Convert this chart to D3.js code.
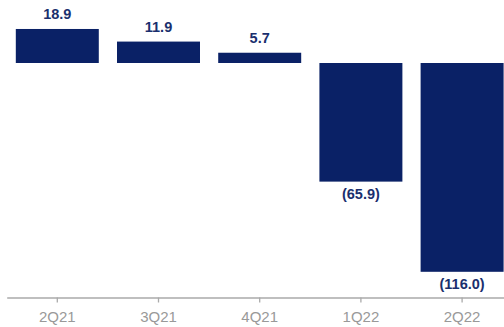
<!DOCTYPE html>
<html>
<head>
<meta charset="utf-8">
<script src="https://cdn.jsdelivr.net/npm/d3@7"></script>
<style>
  html, body { margin: 0; padding: 0; background: #fff; }
  svg { display: block; }
</style>
</head>
<body>
<div id="chart"></div>
<script>
// data
const quarters = ["2Q21", "3Q21", "4Q21", "1Q22", "2Q22"];
const values = [18.9, 11.9, 5.7, -65.9, -116.0];

const width = 504, height = 327;
const barColor = "#0a2166";

const svg = d3.select("#chart").append("svg")
  .attr("width", width)
  .attr("height", height);

// scales
const x = d3.scaleBand()
  .domain(quarters)
  .range([6.7, 512.7])
  .paddingInner(0.18)
  .paddingOuter(0.09);

const y = d3.scaleLinear()
  .domain([-120, 20])
  .range([279, 27]);

const data = quarters.map((q, i) => ({ q, v: values[i] }));

// bars
svg.selectAll("rect.bar")
  .data(data)
  .enter()
  .append("rect")
  .attr("class", "bar")
  .attr("x", d => x(d.q))
  .attr("width", x.bandwidth())
  .attr("y", d => y(Math.max(0, d.v)))
  .attr("height", d => Math.abs(y(d.v) - y(0)))
  .attr("fill", barColor);

// value labels
const fmt = v => v < 0 ? `(${Math.abs(v).toFixed(1)})` : v.toFixed(1);
svg.selectAll("text.val")
  .data(data)
  .enter()
  .append("text")
  .attr("class", "val")
  .attr("x", d => x(d.q) + x.bandwidth() / 2)
  .attr("y", d => d.v >= 0 ? y(d.v) - 9.5 : y(d.v) + 17.5)
  .attr("text-anchor", "middle")
  .style("font-family", "Liberation Sans, Arial, sans-serif")
  .style("font-weight", "bold")
  .style("font-size", "14.5px")
  .attr("fill", "#1a2f6e")
  .text(d => fmt(d.v));

// axis
const xAxis = d3.axisBottom(x).tickSize(5).tickSizeOuter(0).tickPadding(9);
const gx = svg.append("g")
  .attr("transform", "translate(0, 297.5)")
  .call(xAxis);
gx.select(".domain").attr("stroke", "#aaaaaa").attr("stroke-width", 1.3);
gx.selectAll(".tick line").attr("stroke", "#aaaaaa").attr("stroke-width", 1.3);
gx.selectAll(".tick text")
  .attr("fill", "#999999")
  .style("font-family", "Liberation Sans, Arial, sans-serif")
  .style("font-size", "15px");
</script>
</body>
</html>
